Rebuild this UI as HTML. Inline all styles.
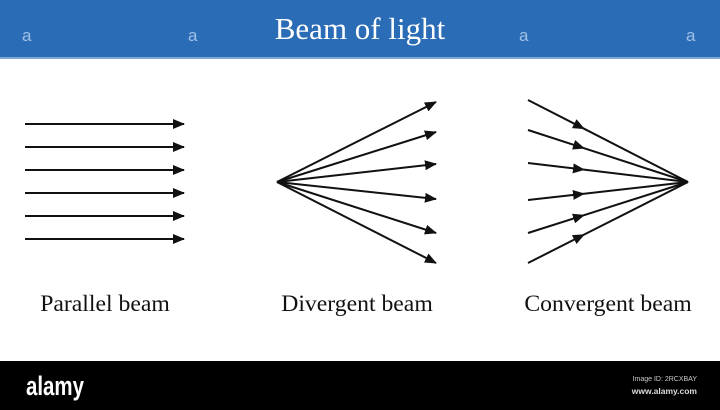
<!DOCTYPE html>
<html><head><meta charset="utf-8"><style>
html,body{margin:0;padding:0;width:720px;height:410px;overflow:hidden;background:#fff}
</style></head><body>
<svg width="720" height="410" viewBox="0 0 720 410" xmlns="http://www.w3.org/2000/svg">
<defs>
<marker id="ah" markerWidth="12" markerHeight="10" refX="11" refY="5" orient="auto" markerUnits="userSpaceOnUse">
<path d="M0,0 L12,5 L0,10 Z" fill="#111"/></marker>
<marker id="am" markerWidth="12" markerHeight="10" refX="11" refY="5" orient="auto" markerUnits="userSpaceOnUse">
<path d="M0,0 L12,5 L0,10 Z" fill="#111"/></marker>
</defs>
<rect x="0" y="0" width="720" height="57" fill="#2a6cb6"/>
<rect x="0" y="57" width="720" height="2" fill="#7fa9d6"/>
<text x="360" y="39" text-anchor="middle" font-family="Liberation Serif, serif" font-size="31" fill="#fff">Beam of light</text>
<g font-family="Liberation Sans, sans-serif" font-size="17" fill="#9fc0e4">
<text x="22" y="41">a</text><text x="188" y="41">a</text><text x="519" y="41">a</text><text x="686" y="41">a</text></g>
<g stroke="#111" stroke-width="2" fill="none">
<line x1="25" y1="124" x2="184" y2="124" marker-end="url(#ah)"/>
<line x1="25" y1="147" x2="184" y2="147" marker-end="url(#ah)"/>
<line x1="25" y1="170" x2="184" y2="170" marker-end="url(#ah)"/>
<line x1="25" y1="193" x2="184" y2="193" marker-end="url(#ah)"/>
<line x1="25" y1="216" x2="184" y2="216" marker-end="url(#ah)"/>
<line x1="25" y1="239" x2="184" y2="239" marker-end="url(#ah)"/>
<line x1="277" y1="182" x2="436" y2="102" marker-end="url(#ah)"/>
<line x1="277" y1="182" x2="436" y2="132" marker-end="url(#ah)"/>
<line x1="277" y1="182" x2="436" y2="164" marker-end="url(#ah)"/>
<line x1="277" y1="182" x2="436" y2="199" marker-end="url(#ah)"/>
<line x1="277" y1="182" x2="436" y2="233" marker-end="url(#ah)"/>
<line x1="277" y1="182" x2="436" y2="263" marker-end="url(#ah)"/>
<polyline points="528,100 584,128.7 688,182" marker-mid="url(#am)"/>
<polyline points="528,130 584,148.2 688,182" marker-mid="url(#am)"/>
<polyline points="528,163 584,169.65 688,182" marker-mid="url(#am)"/>
<polyline points="528,200 584,193.7 688,182" marker-mid="url(#am)"/>
<polyline points="528,233 584,215.15 688,182" marker-mid="url(#am)"/>
<polyline points="528,263 584,234.65 688,182" marker-mid="url(#am)"/>
</g>
<g font-family="Liberation Serif, serif" font-size="23.7" fill="#111" text-anchor="middle">
<text x="105" y="311">Parallel beam</text>
<text x="357" y="311">Divergent beam</text>
<text x="608" y="311">Convergent beam</text>
</g>
<rect x="0" y="361" width="720" height="49" fill="#000"/>
<text x="26" y="395" font-family="Liberation Sans, sans-serif" font-size="27" font-weight="bold" fill="#fff" textLength="58" lengthAdjust="spacingAndGlyphs">alamy</text>
<text x="697" y="381" text-anchor="end" font-family="Liberation Sans, sans-serif" font-size="7" fill="#ccc">Image ID: 2RCXBAY</text>
<text x="697" y="394" text-anchor="end" font-family="Liberation Sans, sans-serif" font-size="8.5" font-weight="bold" fill="#ddd">www.alamy.com</text>
</svg>
</body></html>
